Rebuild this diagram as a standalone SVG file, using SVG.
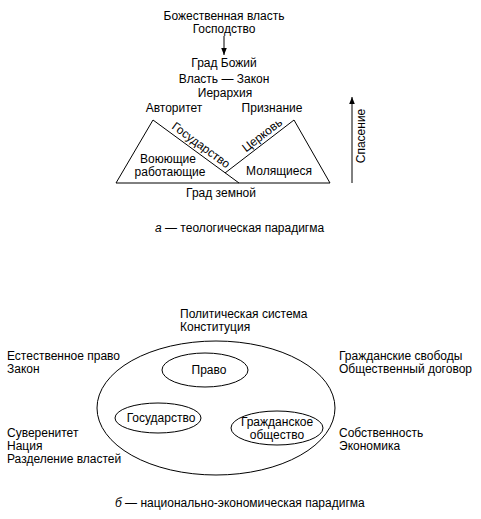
<svg xmlns="http://www.w3.org/2000/svg" width="481" height="519" viewBox="0 0 481 519">
<style>
text{font-family:"Liberation Sans",Arial,sans-serif;font-size:12px;fill:#000}
.c{text-anchor:middle}
.ln{fill:none;stroke:#000;stroke-width:1}
</style>
<defs>
<marker id="ah" viewBox="0 0 10 10" refX="10" refY="5" markerWidth="7" markerHeight="7" orient="auto" markerUnits="userSpaceOnUse">
<path d="M0,1 L10,5 L0,9 Z" fill="#000"/>
</marker>
</defs>
<rect width="481" height="519" fill="#fff"/>

<g id="top-texts">
<text class="c" x="224" y="20">Божественная власть</text>
<text class="c" x="224" y="33">Господство</text>
<text class="c" x="224" y="67">Град Божий</text>
<text class="c" x="224" y="83">Власть — Закон</text>
<text class="c" x="225" y="97">Иерархия</text>
<text class="c" x="174" y="112">Авторитет</text>
<text class="c" x="272" y="112">Признание</text>
</g>

<g id="triangles">
<path class="ln" d="M116,183 L153,120 L239,183 Z"/>
<path class="ln" d="M225,173 L294,120 L330,183 L239,183"/>
<text transform="translate(198.7,148.3) rotate(36.2)" class="c">Государство</text>
<text transform="translate(264.5,138.2) rotate(-37.5)" class="c">Церковь</text>
<text class="c" x="168" y="163">Воюющие</text>
<text class="c" x="170" y="176">работающие</text>
<text class="c" x="279" y="175">Молящиеся</text>
<text class="c" x="221" y="197">Град земной</text>
</g>

<g id="connectors">
<line class="ln" x1="224" y1="36" x2="224" y2="55" marker-end="url(#ah)"/>
<line class="ln" x1="352" y1="183" x2="352" y2="97" marker-end="url(#ah)"/>
</g>
<text transform="translate(365,136) rotate(-90)" class="c">Спасение</text>

<text x="155" y="232"><tspan font-style="italic">а</tspan> — теологическая парадигма</text>

<g id="system">
<ellipse class="ln" cx="216" cy="408" rx="119" ry="67"/>
</g>
<g id="pravo">
<ellipse class="ln" cx="205" cy="370" rx="43" ry="17"/>
<text class="c" x="209" y="374">Право</text>
</g>
<g id="gosudarstvo">
<ellipse class="ln" cx="158" cy="418" rx="43" ry="15"/>
<text class="c" x="161" y="422">Государство</text>
</g>
<g id="grazhd">
<ellipse class="ln" cx="277" cy="428" rx="46" ry="17"/>
<text class="c" x="277" y="426">Гражданское</text>
<text class="c" x="277" y="439">общество</text>
</g>

<g id="side-texts">
<text x="180" y="318">Политическая система</text>
<text x="180" y="331">Конституция</text>
<text x="7" y="360">Естественное право</text>
<text x="7" y="373">Закон</text>
<text x="339" y="360">Гражданские свободы</text>
<text x="339" y="373">Общественный договор</text>
<text x="7" y="437">Суверенитет</text>
<text x="7" y="450">Нация</text>
<text x="7" y="463">Разделение властей</text>
<text x="339" y="437">Собственность</text>
<text x="339" y="450">Экономика</text>
</g>

<text x="115" y="507"><tspan font-style="italic">б</tspan> — национально-экономическая парадигма</text>
</svg>
